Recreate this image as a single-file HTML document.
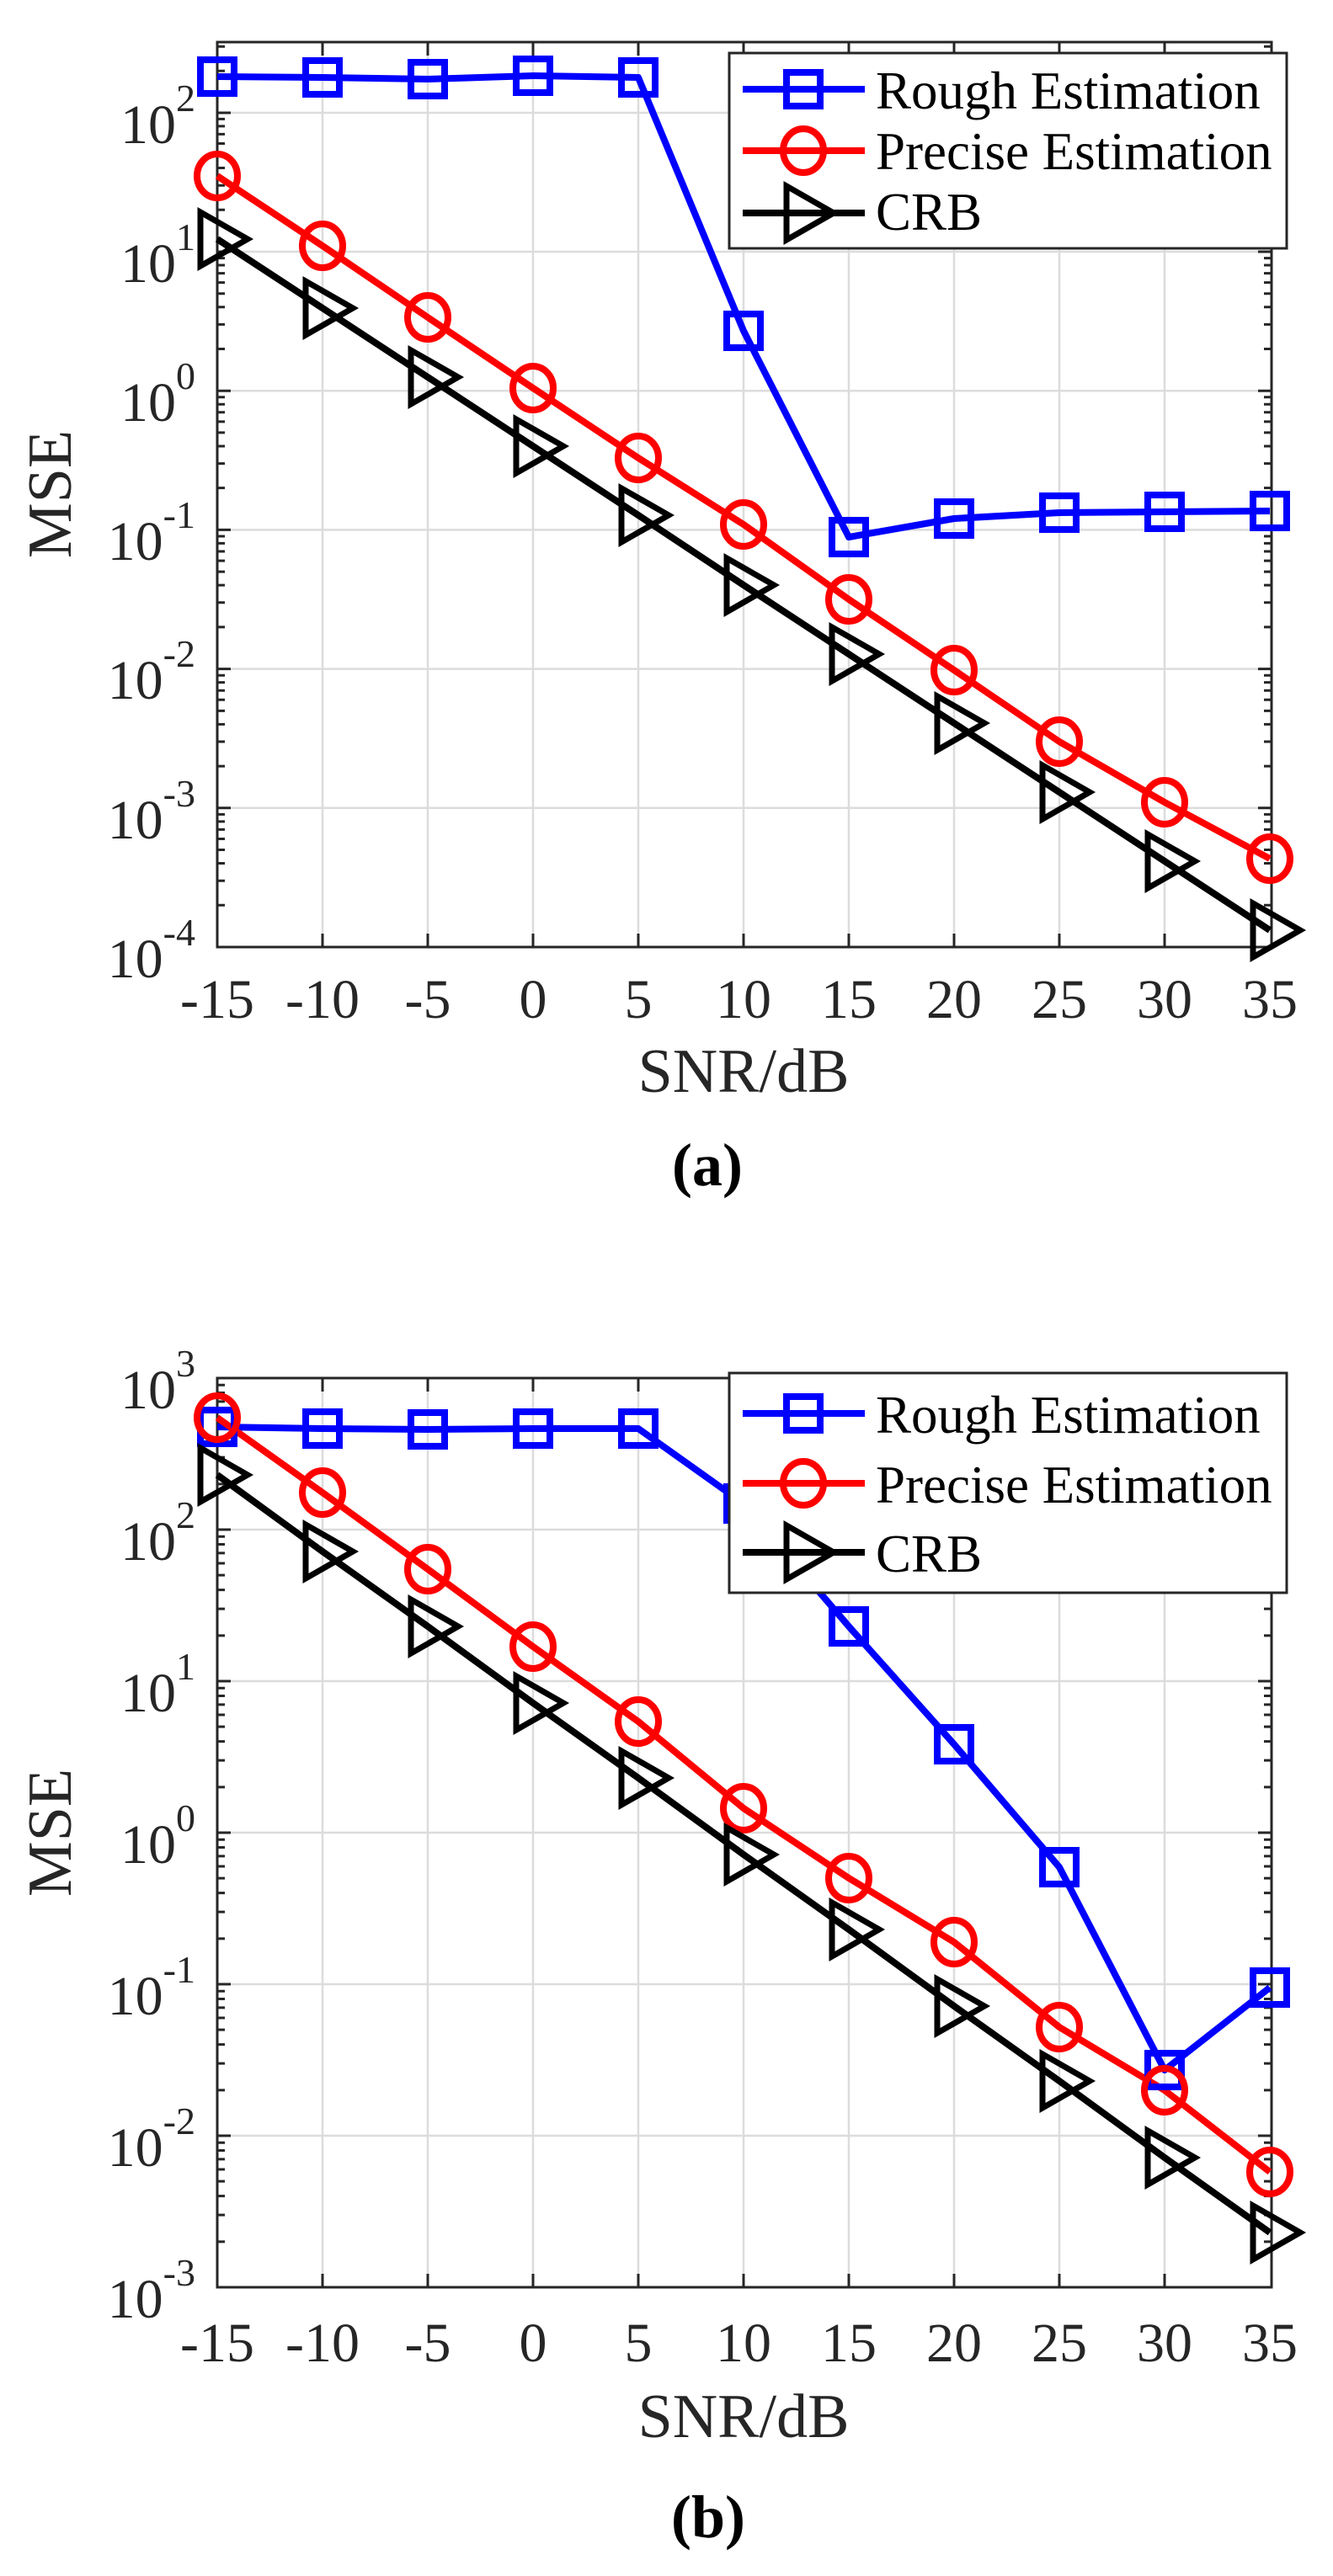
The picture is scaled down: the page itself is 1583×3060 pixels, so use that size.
<!DOCTYPE html>
<html><head><meta charset="utf-8"><style>
html,body{margin:0;padding:0;background:#fff}
svg{display:block}
text{font-family:"Liberation Serif","Times New Roman",serif;fill:#262626}
</style></head><body>
<svg width="1583" height="3060" viewBox="0 0 1583 3060" xmlns="http://www.w3.org/2000/svg">
<defs>
<g id="mdec">
<path vector-effect="non-scaling-stroke" d="M0,-30.1h9M0,-47.7h9M0,-60.2h9M0,-69.9h9M0,-77.8h9M0,-84.5h9M0,-90.3h9M0,-95.4h9" stroke="#262626" stroke-width="3"/>
</g>
<g id="mdecR">
<path vector-effect="non-scaling-stroke" d="M0,-30.1h-9M0,-47.7h-9M0,-60.2h-9M0,-69.9h-9M0,-77.8h-9M0,-84.5h-9M0,-90.3h-9M0,-95.4h-9" stroke="#262626" stroke-width="3"/>
</g>
<clipPath id="ca"><rect x="256" y="50" width="1256" height="1076"/></clipPath>
<clipPath id="cb"><rect x="256" y="1637" width="1256" height="1081"/></clipPath>
<rect id="sq" x="-20" y="-20" width="40" height="40" fill="none" stroke="#0000ff" stroke-width="8"/>
<ellipse id="ci" cx="0" cy="0" rx="24" ry="26" fill="none" stroke="#ff0000" stroke-width="8"/>
<path id="tr" d="M-20,-32L36,0L-20,32Z" fill="none" stroke="#000" stroke-width="7" stroke-linejoin="miter"/>
</defs>

<!-- ===== Panel A ===== -->
<g stroke="#dcdcdc" stroke-width="2.5">
<path d="M383,50V1125M508,50V1125M633,50V1125M758,50V1125M883,50V1125M1008,50V1125M1133,50V1125M1258,50V1125M1383,50V1125"/>
<path d="M258,134H1510M258,299H1510M258,464.2H1510M258,629.4H1510M258,794.6H1510M258,959.8H1510"/>
</g>
<g clip-path="url(#ca)">
<use href="#mdec" transform="translate(258,1125) scale(1,1.652)"/>
<use href="#mdec" transform="translate(258,959.8) scale(1,1.652)"/>
<use href="#mdec" transform="translate(258,794.6) scale(1,1.652)"/>
<use href="#mdec" transform="translate(258,629.4) scale(1,1.652)"/>
<use href="#mdec" transform="translate(258,464.2) scale(1,1.652)"/>
<use href="#mdec" transform="translate(258,299) scale(1,1.652)"/>
<use href="#mdec" transform="translate(258,134) scale(1,1.652)"/>
<use href="#mdecR" transform="translate(1510,1125) scale(1,1.652)"/>
<use href="#mdecR" transform="translate(1510,959.8) scale(1,1.652)"/>
<use href="#mdecR" transform="translate(1510,794.6) scale(1,1.652)"/>
<use href="#mdecR" transform="translate(1510,629.4) scale(1,1.652)"/>
<use href="#mdecR" transform="translate(1510,464.2) scale(1,1.652)"/>
<use href="#mdecR" transform="translate(1510,299) scale(1,1.652)"/>
<use href="#mdecR" transform="translate(1510,134) scale(1,1.652)"/>
</g>
<g stroke="#262626" stroke-width="3" fill="none">
<rect x="258" y="50" width="1252" height="1075"/>
<path d="M258,134h16M258,299h16M258,464.2h16M258,629.4h16M258,794.6h16M258,959.8h16M1510,134h-16M1510,299h-16M1510,464.2h-16M1510,629.4h-16M1510,794.6h-16M1510,959.8h-16"/>
<path d="M383,1125v-16M508,1125v-16M633,1125v-16M758,1125v-16M883,1125v-16M1008,1125v-16M1133,1125v-16M1258,1125v-16M1383,1125v-16M383,50v16M508,50v16M633,50v16M758,50v16M883,50v16M1008,50v16M1133,50v16M1258,50v16M1383,50v16"/>
</g>
<g font-size="66" text-anchor="end">
<text x="232" y="170">10<tspan dy="-38" font-size="46">2</tspan></text>
<text x="232" y="335">10<tspan dy="-38" font-size="46">1</tspan></text>
<text x="232" y="500">10<tspan dy="-38" font-size="46">0</tspan></text>
<text x="232" y="665">10<tspan dy="-38" font-size="46">-1</tspan></text>
<text x="232" y="830">10<tspan dy="-38" font-size="46">-2</tspan></text>
<text x="232" y="996">10<tspan dy="-38" font-size="46">-3</tspan></text>
<text x="232" y="1161">10<tspan dy="-38" font-size="46">-4</tspan></text>
</g>
<g font-size="66" text-anchor="middle">
<text x="258" y="1209">-15</text><text x="383" y="1209">-10</text><text x="508" y="1209">-5</text><text x="633" y="1209">0</text><text x="758" y="1209">5</text><text x="883" y="1209">10</text><text x="1008" y="1209">15</text><text x="1133" y="1209">20</text><text x="1258" y="1209">25</text><text x="1383" y="1209">30</text><text x="1508" y="1209">35</text>
</g>
<text x="883" y="1297" font-size="74" text-anchor="middle">SNR/dB</text>
<text transform="translate(84,587) rotate(-90)" font-size="74" text-anchor="middle">MSE</text>
<text x="840" y="1408" font-size="72" font-weight="bold" text-anchor="middle" style="fill:#000">(a)</text>

<g fill="none" stroke-width="8" stroke-linejoin="round">
<polyline stroke="#0000ff" points="258,91 383,92 508,94 633,90 758,92 883,393 1008,638 1133,616 1258,609 1383,608 1508,607"/>
<polyline stroke="#ff0000" points="258,209 383,292 508,377 633,461 758,544 883,623 1008,712 1133,796 1258,881 1383,953 1508,1020"/>
<polyline stroke="#000" points="258,284 383,366 508,448 633,530 758,612 883,695 1008,777 1133,859 1258,941 1383,1023 1508,1105"/>
</g>
<g>
<use href="#sq" x="258" y="91"/><use href="#sq" x="383" y="92"/><use href="#sq" x="508" y="94"/><use href="#sq" x="633" y="90"/><use href="#sq" x="758" y="92"/><use href="#sq" x="883" y="393"/><use href="#sq" x="1008" y="638"/><use href="#sq" x="1133" y="616"/><use href="#sq" x="1258" y="609"/><use href="#sq" x="1383" y="608"/><use href="#sq" x="1508" y="607"/>
<use href="#ci" x="258" y="209"/><use href="#ci" x="383" y="292"/><use href="#ci" x="508" y="377"/><use href="#ci" x="633" y="461"/><use href="#ci" x="758" y="544"/><use href="#ci" x="883" y="623"/><use href="#ci" x="1008" y="712"/><use href="#ci" x="1133" y="796"/><use href="#ci" x="1258" y="881"/><use href="#ci" x="1383" y="953"/><use href="#ci" x="1508" y="1020"/>
<use href="#tr" x="258" y="284"/><use href="#tr" x="383" y="366"/><use href="#tr" x="508" y="448"/><use href="#tr" x="633" y="530"/><use href="#tr" x="758" y="612"/><use href="#tr" x="883" y="695"/><use href="#tr" x="1008" y="777"/><use href="#tr" x="1133" y="859"/><use href="#tr" x="1258" y="941"/><use href="#tr" x="1383" y="1023"/><use href="#tr" x="1508" y="1105"/>
</g>
<!-- legend a -->
<rect x="866" y="63" width="662" height="232" fill="#fff" stroke="#262626" stroke-width="3"/>
<path d="M882,106H1027" stroke="#0000ff" stroke-width="8"/><use href="#sq" x="954" y="106"/>
<path d="M882,179H1027" stroke="#ff0000" stroke-width="8"/><use href="#ci" x="954" y="179"/>
<path d="M882,253H1027" stroke="#000" stroke-width="8"/><use href="#tr" x="954" y="253"/>
<g font-size="63"><text x="1040" y="129" style="fill:#000">Rough Estimation</text><text x="1040" y="201" style="fill:#000">Precise Estimation</text><text x="1040" y="273" style="fill:#000">CRB</text></g>

<!-- ===== Panel B ===== -->
<g stroke="#dcdcdc" stroke-width="2.5">
<path d="M383,1637V2717M508,1637V2717M633,1637V2717M758,1637V2717M883,1637V2717M1008,1637V2717M1133,1637V2717M1258,1637V2717M1383,1637V2717"/>
<path d="M258,1817H1510M258,1997H1510M258,2177H1510M258,2357H1510M258,2537H1510"/>
</g>
<g clip-path="url(#cb)">
<use href="#mdec" transform="translate(258,2717) scale(1,1.8)"/>
<use href="#mdec" transform="translate(258,2537) scale(1,1.8)"/>
<use href="#mdec" transform="translate(258,2357) scale(1,1.8)"/>
<use href="#mdec" transform="translate(258,2177) scale(1,1.8)"/>
<use href="#mdec" transform="translate(258,1997) scale(1,1.8)"/>
<use href="#mdec" transform="translate(258,1817) scale(1,1.8)"/>
<use href="#mdecR" transform="translate(1510,2717) scale(1,1.8)"/>
<use href="#mdecR" transform="translate(1510,2537) scale(1,1.8)"/>
<use href="#mdecR" transform="translate(1510,2357) scale(1,1.8)"/>
<use href="#mdecR" transform="translate(1510,2177) scale(1,1.8)"/>
<use href="#mdecR" transform="translate(1510,1997) scale(1,1.8)"/>
<use href="#mdecR" transform="translate(1510,1817) scale(1,1.8)"/>
</g>
<g stroke="#262626" stroke-width="3" fill="none">
<rect x="258" y="1637" width="1252" height="1080"/>
<path d="M258,1817h16M258,1997h16M258,2177h16M258,2357h16M258,2537h16M1510,1817h-16M1510,1997h-16M1510,2177h-16M1510,2357h-16M1510,2537h-16"/>
<path d="M383,2717v-16M508,2717v-16M633,2717v-16M758,2717v-16M883,2717v-16M1008,2717v-16M1133,2717v-16M1258,2717v-16M1383,2717v-16M383,1637v16M508,1637v16M633,1637v16M758,1637v16M883,1637v16M1008,1637v16M1133,1637v16M1258,1637v16M1383,1637v16"/>
</g>
<g font-size="66" text-anchor="end">
<text x="232" y="1673">10<tspan dy="-38" font-size="46">3</tspan></text>
<text x="232" y="1853">10<tspan dy="-38" font-size="46">2</tspan></text>
<text x="232" y="2033">10<tspan dy="-38" font-size="46">1</tspan></text>
<text x="232" y="2213">10<tspan dy="-38" font-size="46">0</tspan></text>
<text x="232" y="2393">10<tspan dy="-38" font-size="46">-1</tspan></text>
<text x="232" y="2573">10<tspan dy="-38" font-size="46">-2</tspan></text>
<text x="232" y="2753">10<tspan dy="-38" font-size="46">-3</tspan></text>
</g>
<g font-size="66" text-anchor="middle">
<text x="258" y="2805">-15</text><text x="383" y="2805">-10</text><text x="508" y="2805">-5</text><text x="633" y="2805">0</text><text x="758" y="2805">5</text><text x="883" y="2805">10</text><text x="1008" y="2805">15</text><text x="1133" y="2805">20</text><text x="1258" y="2805">25</text><text x="1383" y="2805">30</text><text x="1508" y="2805">35</text>
</g>
<text x="883" y="2895" font-size="74" text-anchor="middle">SNR/dB</text>
<text transform="translate(84,2177) rotate(-90)" font-size="74" text-anchor="middle">MSE</text>
<text x="841" y="3014" font-size="72" font-weight="bold" text-anchor="middle" style="fill:#000">(b)</text>

<g fill="none" stroke-width="8" stroke-linejoin="round">
<polyline stroke="#0000ff" points="258,1695 383,1697 508,1698 633,1697 758,1697 883,1786 1008,1932 1133,2072 1258,2218 1383,2459 1508,2361"/>
<polyline stroke="#ff0000" points="258,1684 383,1773 508,1864 633,1956 758,2045 883,2148 1008,2231 1133,2307 1258,2408 1383,2483 1508,2580"/>
<polyline stroke="#000" points="258,1752 383,1843 508,1932 633,2023 758,2112 883,2203 1008,2292 1133,2383 1258,2472 1383,2563 1508,2652"/>
</g>
<g>
<use href="#sq" x="258" y="1695"/><use href="#sq" x="383" y="1697"/><use href="#sq" x="508" y="1698"/><use href="#sq" x="633" y="1697"/><use href="#sq" x="758" y="1697"/><use href="#sq" x="883" y="1786"/><use href="#sq" x="1008" y="1932"/><use href="#sq" x="1133" y="2072"/><use href="#sq" x="1258" y="2218"/><use href="#sq" x="1383" y="2459"/><use href="#sq" x="1508" y="2361"/>
<use href="#ci" x="258" y="1684"/><use href="#ci" x="383" y="1773"/><use href="#ci" x="508" y="1864"/><use href="#ci" x="633" y="1956"/><use href="#ci" x="758" y="2045"/><use href="#ci" x="883" y="2148"/><use href="#ci" x="1008" y="2231"/><use href="#ci" x="1133" y="2307"/><use href="#ci" x="1258" y="2408"/><use href="#ci" x="1383" y="2483"/><use href="#ci" x="1508" y="2580"/>
<use href="#tr" x="258" y="1752"/><use href="#tr" x="383" y="1843"/><use href="#tr" x="508" y="1932"/><use href="#tr" x="633" y="2023"/><use href="#tr" x="758" y="2112"/><use href="#tr" x="883" y="2203"/><use href="#tr" x="1008" y="2292"/><use href="#tr" x="1133" y="2383"/><use href="#tr" x="1258" y="2472"/><use href="#tr" x="1383" y="2563"/><use href="#tr" x="1508" y="2652"/>
</g>
<!-- legend b -->
<rect x="866" y="1631" width="662" height="261" fill="#fff" stroke="#262626" stroke-width="3"/>
<path d="M882,1679H1027" stroke="#0000ff" stroke-width="8"/><use href="#sq" x="954" y="1679"/>
<path d="M882,1762H1027" stroke="#ff0000" stroke-width="8"/><use href="#ci" x="954" y="1762"/>
<path d="M882,1844H1027" stroke="#000" stroke-width="8"/><use href="#tr" x="954" y="1844"/>
<g font-size="63"><text x="1040" y="1702" style="fill:#000">Rough Estimation</text><text x="1040" y="1785" style="fill:#000">Precise Estimation</text><text x="1040" y="1867" style="fill:#000">CRB</text></g>
</svg>
</body></html>
